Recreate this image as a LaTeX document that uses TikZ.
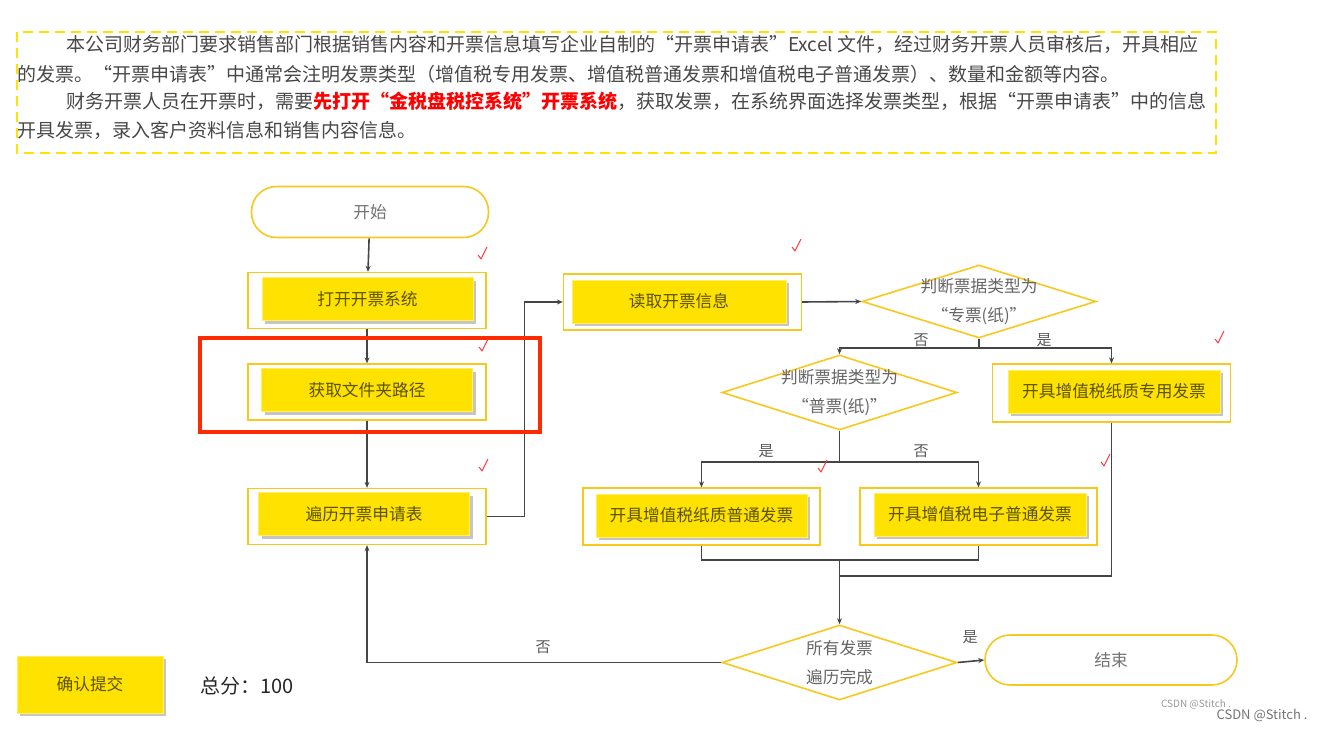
\documentclass[tikz,border=0pt]{standalone}
\usepackage{fontspec}
\newfontfamily\cjk{Noto Sans CJK SC}
\usetikzlibrary{shapes.geometric,arrows.meta,shadows}
\definecolor{gold}{HTML}{F7C81E}
\definecolor{btnyellow}{HTML}{FFE200}
\definecolor{olive}{HTML}{5A5200}
\definecolor{wire}{HTML}{454545}
\definecolor{tick}{HTML}{FF3B3B}
\definecolor{hilite}{HTML}{FF2A00}
\newcommand{\zl}[1]{\makebox[0pt]{#1}}

\begin{document}
\begin{tikzpicture}[x=1pt,y=-1pt,
    every node/.style={font=\cjk},
    txt/.style={anchor=west,inner sep=0pt,text=black!72,font=\cjk\fontsize{19}{23}\selectfont},
    frame/.style={draw=gold,line width=1.3pt,fill=white,minimum width=238pt,minimum height=56pt},
    btn/.style={fill=btnyellow,draw=btnyellow!60!white,line width=1pt,minimum width=211pt,minimum height=43pt,
        drop shadow={shadow xshift=3pt,shadow yshift=-3pt,opacity=0.45},
        text=olive,font=\cjk\fontsize{16.7}{20}\selectfont},
    decide/.style={diamond,draw=gold,line width=1.6pt,fill=white,aspect=3.2,inner sep=0pt,
        minimum width=235pt,minimum height=75pt,align=center,text=black!60,
        font=\cjk\fontsize{16.7}{29}\selectfont},
    term/.style={draw=gold,line width=1.6pt,fill=white,rounded corners=25pt,
        minimum width=237pt,minimum height=51pt,text=black!55,font=\cjk\fontsize{16.7}{20}\selectfont},
    lbl/.style={text=black!65,font=\cjk\fontsize{15}{18}\selectfont},
    ok/.style={draw=tick,line width=1pt,line join=round},
    line/.style={draw=wire,line width=1.6pt},
    arrow/.style={line,-{Stealth[length=6pt,width=5pt]}}]

\useasboundingbox (0,0) rectangle (1321,730);

% task description
\draw[btnyellow,line width=2pt,dash pattern=on 10pt off 6pt] (17,32) rectangle (1216,153);
\node[txt] (p1) at (66,44) {本公司财务部门要求销售部门根据销售内容和开票信息填写企业自制的“开票申请表”Excel 文件，经过财务开票人员审核后，开具相应};
\node[txt] (p2) at (17,74) {的发票。“开票申请表”中通常会注明发票类型（增值税专用发票、增值税普通发票和增值税电子普通发票）、数量和金额等内容。};
\node[txt] (p3) at (66,101) {财务开票人员在开票时，需要{\color{red}\bfseries 先打开“金税盘税控系统”开票系统}，获取发票，在系统界面选择发票类型，根据“开票申请表”中的信息};
\node[txt] (p4) at (17,130) {开具发票，录入客户资料信息和销售内容信息。};

% left column
\node[term] (start) at (370,212) {开始};
\node[frame] (open) at (367,300.5) {};
\node[btn] at (367.5,299) {打开开票系统};
\node[frame] (path) at (367,392) {};
\node[btn] at (367,390) {获取文件夹路径};
\node[frame] (scan) at (367,516.5) {};
\node[btn] at (364,514) {遍历开票申请表};

% right part
\node[frame] (read) at (682.5,302) {};
\node[btn,minimum width=214pt] at (679,301.5) {读取开票信息};
\node[decide,minimum width=234pt,minimum height=73pt] (isspecial) at (979,301.5) {\zl{判断票据类型为}\\\zl{“专票(纸)”}};
\node[decide] (isplain) at (839.5,392.5) {\zl{判断票据类型为}\\\zl{“普票(纸)”}};
\node[frame,minimum height=58pt] (special) at (1111.5,393) {};
\node[btn,minimum width=212pt] at (1114,391.5) {开具增值税纸质专用发票};
\node[frame,minimum width=237pt,minimum height=57pt] (paper) at (701.5,516.5) {};
\node[btn] at (701.5,515.5) {开具增值税纸质普通发票};
\node[frame,minimum width=237pt,minimum height=57pt] (einv) at (978.5,516.5) {};
\node[btn,minimum width=212pt] at (980,514.5) {开具增值税电子普通发票};
\node[decide] (done) at (839.5,662.5) {\zl{所有发票}\\\zl{遍历完成}};
\node[term,minimum width=252pt,minimum height=50pt] (end) at (1111,660) {结束};

% connectors
\draw[arrow] (start) -- (open);
\draw[arrow] (open) -- (path);
\draw[arrow] (path) -- (scan);
\draw[arrow] (scan.east) -- ++(38,0) |- (read.west);
\draw[arrow] (read.east) -- (isspecial.west);
\draw[line] (isspecial.south) -- ++(0,9) coordinate (j1);
\draw[arrow] (j1) -| (isplain.north);
\draw[arrow] (j1) -| (special.north);
\draw[line] (isplain.south) -- ++(0,31) coordinate (j2);
\draw[arrow] (j2) -| (paper.north);
\draw[arrow] (j2) -| (einv.north);
\coordinate (m1) at (839.5,560);
\draw[line] (paper.south) |- (m1) -| (einv.south);
\draw[line] (special.south) |- (839.5,576);
\draw[arrow] (m1) -- (done.north);
\draw[arrow] (done.east) -- (end.west);
\draw[arrow] (done.west) -| (scan.south);

% branch labels
\node[lbl] (no1) at (921,340) {否};
\node[lbl] (yes1) at (1044,340) {是};
\node[lbl] (yes2) at (766,451) {是};
\node[lbl] (no2) at (921,451) {否};
\node[lbl] (yes3) at (970,637) {是};
\node[lbl] (no3) at (543,647) {否};

% ticks
\foreach \x/\y in {483/254,484/346,484/466,797/246,1220/338,823/467,1106/461}
    \draw[ok] (\x-5,\y+1) -- (\x-2,\y+5) -- (\x+4,\y-7);

% highlight
\draw[hilite,line width=3.5pt] (200,338) rectangle (540,432);

% bottom bar
\node[fill=btnyellow,draw=btnyellow!60!white,line width=1pt,minimum width=146pt,minimum height=57pt,
    drop shadow={shadow xshift=3pt,shadow yshift=-3pt,opacity=0.45},
    text=olive,font=\cjk\fontsize{16.7}{20}\selectfont] (submit) at (90,684.5) {确认提交};
\node[anchor=west,inner sep=0pt,text=black!85,font=\cjk\fontsize{20}{24}\selectfont] (score) at (200,686) {总分：100};
\node[text=black!40,font=\cjk\fontsize{10}{12}\selectfont] (wm1) at (1196,704) {CSDN @Stitch .};
\node[text=black!55,font=\cjk\fontsize{13}{15}\selectfont] (wm2) at (1262,715) {CSDN @Stitch .};
\end{tikzpicture}
\end{document}
